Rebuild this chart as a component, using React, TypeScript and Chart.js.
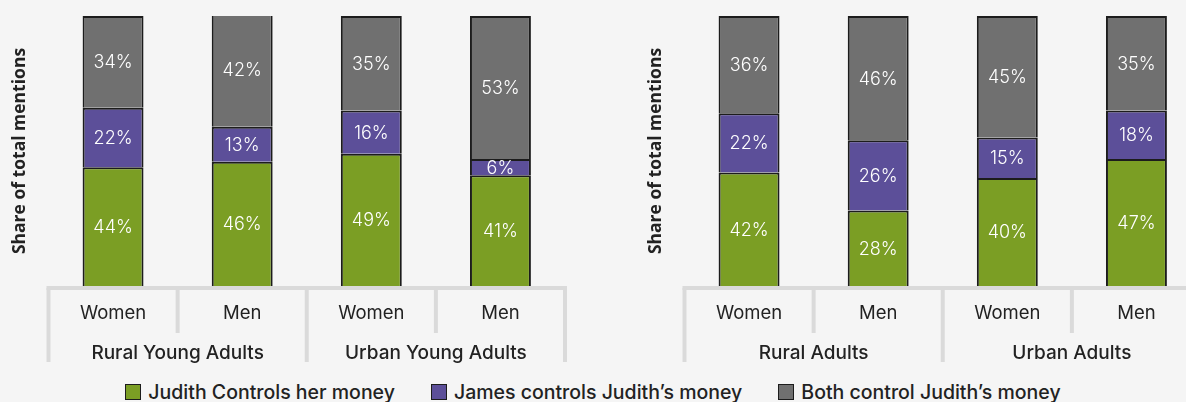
import React, { useEffect, useRef } from 'react';
import { Chart, registerables } from 'chart.js';

Chart.register(...registerables);

// ---- data ----
const subCategories = ['Women', 'Men', 'Women', 'Men'];
const leftGroups = ['Rural Young Adults', 'Urban Young Adults'];
const rightGroups = ['Rural Adults', 'Urban Adults'];
const seriesNames = ['Judith Controls her money', 'James controls Judith\u2019s money', 'Both control Judith\u2019s money'];
const seriesColors = ['#7b9e24', '#5c4f99', '#707070'];

const leftJudith = [44, 46, 49, 41];
const leftJames = [22, 13, 16, 6];
const leftBoth = [34, 42, 35, 53];

const rightJudith = [42, 28, 40, 47];
const rightJames = [22, 26, 15, 18];
const rightBoth = [36, 46, 45, 35];

const yTitle = 'Share of total mentions';

const FONT = 'Inter, "Noto Sans", sans-serif';
const TEXT = '#222222';

const groupAxisPlugin = {
  id: 'groupAxis',
  afterDraw(chart: any) {
    const { ctx, chartArea, scales } = chart;
    const x = scales.x;
    const groups: string[] = chart.options.plugins.groupAxis.groups;
    const n = subCategories.length;
    const cw = x.getPixelForValue(1) - x.getPixelForValue(0);
    const start = x.getPixelForValue(0) - cw / 2;
    const bounds: number[] = [];
    for (let i = 0; i <= n; i++) bounds.push(start + i * cw);
    const base = chartArea.bottom;
    const yLine = base + 2;
    ctx.save();
    ctx.strokeStyle = '#dadada';
    ctx.lineWidth = 4;
    ctx.beginPath();
    ctx.moveTo(bounds[0] - 2, yLine);
    ctx.lineTo(bounds[n] + 2, yLine);
    ctx.stroke();
    for (let i = 0; i <= n; i++) {
      const outer = i % 2 === 0;
      ctx.beginPath();
      ctx.moveTo(bounds[i], yLine);
      ctx.lineTo(bounds[i], base + (outer ? 76 : 47));
      ctx.stroke();
    }
    ctx.fillStyle = TEXT;
    ctx.textAlign = 'center';
    ctx.textBaseline = 'middle';
    ctx.font = `400 18.5px ${FONT}`;
    for (let i = 0; i < n; i++) {
      ctx.fillText(subCategories[i], x.getPixelForValue(i), base + 27);
    }
    ctx.font = `500 19px ${FONT}`;
    for (let g = 0; g < groups.length; g++) {
      const cx = (bounds[g * 2] + bounds[g * 2 + 2]) / 2;
      ctx.fillText(groups[g], cx, base + 67);
    }
    ctx.restore();
  },
  afterDatasetsDraw(chart: any) {
    const { ctx } = chart;
    ctx.save();
    ctx.fillStyle = '#ffffff';
    ctx.textAlign = 'center';
    ctx.textBaseline = 'middle';
    ctx.font = `300 18px ${FONT}`;
    chart.data.datasets.forEach((ds: any, di: number) => {
      const meta = chart.getDatasetMeta(di);
      meta.data.forEach((el: any, i: number) => {
        const v = ds.data[i];
        const cy = (el.y + el.base) / 2;
        ctx.fillText(v + '%', el.x, cy + 1);
      });
    });
    ctx.restore();
  },
};

function makeConfig(judith: number[], james: number[], both: number[], groups: string[]): any {
  const values = [judith, james, both];
  return {
    type: 'bar',
    data: {
      labels: subCategories,
      datasets: values.map((d, i) => ({
        label: seriesNames[i],
        data: d,
        backgroundColor: seriesColors[i],
        borderColor: '#1c1c1c',
        borderWidth: 2,
        borderSkipped: 'start',
        categoryPercentage: 1,
        barPercentage: 0.472,
      })),
    },
    options: {
      responsive: false,
      animation: false,
      devicePixelRatio: 1,
      layout: { padding: { left: 0, right: 71, top: 16, bottom: 84 } },
      plugins: {
        legend: { display: false },
        tooltip: { enabled: false },
        groupAxis: { groups },
      },
      scales: {
        x: {
          stacked: true,
          display: false,
          offset: true,
        },
        y: {
          stacked: true,
          min: 0,
          max: 100,
          grid: { display: false },
          border: { display: false },
          ticks: { display: false },
          afterFit: (scale: any) => {
            scale.width = 48.5;
          },
          title: {
            display: true,
            text: yTitle,
            color: TEXT,
            font: { family: '"Open Sans", sans-serif', size: 17.5, weight: 'bold' },
            padding: { top: 10, bottom: 0 },
          },
        },
      },
    },
    plugins: [groupAxisPlugin],
  };
}

function Panel({ left, judith, james, both, groups }: any) {
  const ref = useRef<HTMLCanvasElement>(null);
  useEffect(() => {
    if (!ref.current) return;
    const chart = new Chart(ref.current, makeConfig(judith, james, both, groups));
    return () => chart.destroy();
  }, []);
  return (
    <canvas
      ref={ref}
      width={636}
      height={370}
      style={{ position: 'absolute', left, top: 0, width: 636, height: 370, display: 'block' }}
    />
  );
}

export default function App() {
  useEffect(() => {
    document.body.style.margin = '0';
    document.body.style.background = '#f5f5f5';
  }, []);
  return (
    <div
      style={{
        position: 'absolute',
        left: 0,
        top: 0,
        width: 1186,
        height: 402,
        overflow: 'hidden',
        background: '#f5f5f5',
      }}
    >
      <Panel left={0} judith={leftJudith} james={leftJames} both={leftBoth} groups={leftGroups} />
      <Panel left={636} judith={rightJudith} james={rightJames} both={rightBoth} groups={rightGroups} />
      <div
        style={{
          position: 'absolute',
          left: 0,
          top: 381,
          width: 1186,
          height: 22,
          display: 'flex',
          justifyContent: 'center',
          alignItems: 'center',
          gap: 36,
          fontFamily: FONT,
          fontWeight: 500,
          fontSize: 19.5,
          color: TEXT,
        }}
      >
        {seriesNames.map((name, i) => (
          <div key={name} style={{ display: 'flex', alignItems: 'center' }}>
            <span
              style={{
                display: 'inline-block',
                width: 14,
                height: 14,
                background: seriesColors[i],
                border: '1.5px solid #1c1c1c',
                marginRight: 7,
              }}
            />
            <span style={{ whiteSpace: 'nowrap', lineHeight: '22px' }}>{name}</span>
          </div>
        ))}
      </div>
    </div>
  );
}
